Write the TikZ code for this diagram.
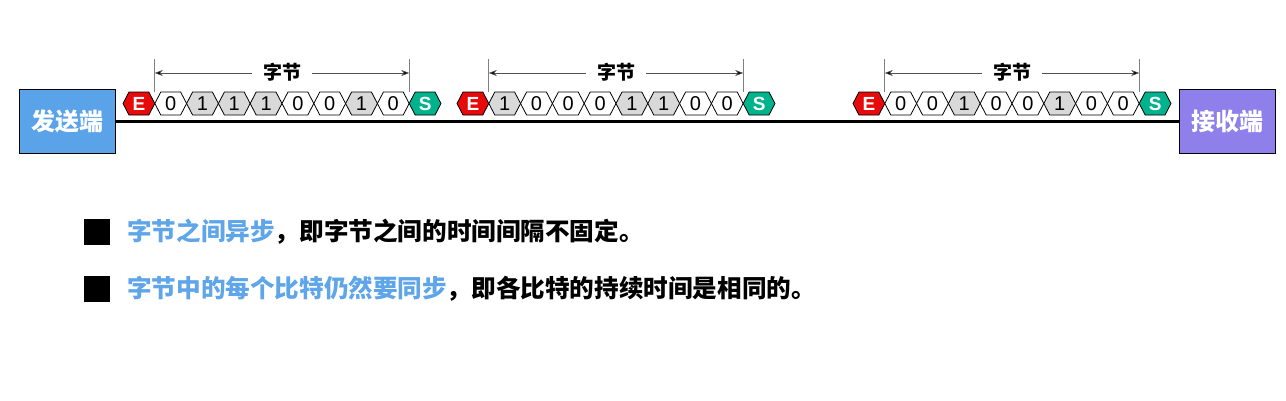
\documentclass[tikz,border=0pt]{standalone}
\usepackage{fontspec}
\setmainfont{Liberation Sans}
\newfontfamily\cjk{Noto Sans CJK SC}
\usetikzlibrary{arrows.meta}
\definecolor{sendblue}{HTML}{5BA3E8}
\definecolor{recvpurple}{HTML}{8E7FEA}
\definecolor{ered}{HTML}{E60A0A}
\definecolor{steal}{HTML}{00B38C}
\definecolor{bitgray}{HTML}{D9D9D9}
\definecolor{txtblue}{HTML}{5FA5EA}
\definecolor{dimgray}{HTML}{505050}
\newcommand\hexcell[4]{% left x, fill style, text, text style
  \path[hexline,#2] (#1,103.5) -- (#1+6,92) -- (#1+25.8,92) -- (#1+31.8,103.5) -- (#1+25.8,115) -- (#1+6,115) -- cycle;
  \node[#4] at (#1+15.9,104) {#3};
}
\begin{document}
\begin{tikzpicture}[x=1pt,y=-1pt,
  hexline/.style={draw=black,line width=0.8pt},
  bit0/.style={fill=white},
  bit1/.style={fill=bitgray},
  redcell/.style={fill=ered},
  greencell/.style={fill=steal},
  bittext/.style={font=\fontsize{20}{20}\selectfont,inner sep=0pt},
  marktext/.style={font=\fontsize{19}{19}\selectfont\bfseries,text=white,inner sep=0pt},
  endbox/.style={draw=black,line width=1pt,minimum width=96pt,minimum height=64pt,inner sep=0pt,text=white,font=\cjk\bfseries\fontsize{24}{26}\selectfont},
  bytelabel/.style={font=\cjk\bfseries\fontsize{19}{20}\selectfont,inner xsep=11pt,inner ysep=2pt},
  dimarrow/.style={draw=dimgray,line width=0.6pt,-{Stealth[length=8pt,width=6pt,fill=black]}},
  dimtick/.style={draw=gray,line width=0.8pt},
  bullet/.style={fill=black,minimum width=26pt,minimum height=26pt,inner sep=0pt},
  point/.style={anchor=west,inner sep=0pt,font=\cjk\bfseries\fontsize{24.6}{28}\selectfont}
]
\useasboundingbox (0,0) rectangle (1286,400);
\fill[white] (0,0) rectangle (1286,400);

\node[endbox,fill=sendblue] (send) at (67,121) {发送端};
\node[endbox,fill=recvpurple] (recv) at (1227,121) {接收端};
\draw[line width=3pt] (send.east) -- (recv.west);

\foreach \fx/\bits/\fn in {123/{0,1,1,1,0,0,1,0}/a,457/{1,0,0,0,1,1,0,0}/b,853/{0,0,1,0,0,1,0,0}/c}{
  \hexcell{\fx}{redcell}{E}{marktext}
  \foreach \b [count=\i] in \bits {
    \hexcell{\fx+31.8*\i}{bit\b}{\b}{bittext}
  }
  \hexcell{\fx+31.8*9}{greencell}{S}{marktext}
  \coordinate (\fn s) at (\fx+31.8,73);
  \coordinate (\fn e) at (\fx+31.8*9,73);
  \draw[dimtick] (\fx+31.8,59) -- (\fx+31.8,92);
  \draw[dimtick] (\fx+31.8*9,59) -- (\fx+31.8*9,92);
  \node[bytelabel] (\fn lab) at (\fx+31.8*5,72) {字节};
  \draw[dimarrow] (\fn lab.west |- \fn s) -- (\fn s);
  \draw[dimarrow] (\fn lab.east |- \fn e) -- (\fn e);
}

\node[bullet] (b1) at (97,232) {};
\node[point] (t1) at (127,232) {\textcolor{txtblue}{字节之间异步}，即字节之间的时间间隔不固定。};
\node[bullet] (b2) at (97,289) {};
\node[point] (t2) at (127,289) {\textcolor{txtblue}{字节中的每个比特仍然要同步}，即各比特的持续时间是相同的。};
\end{tikzpicture}
\end{document}
